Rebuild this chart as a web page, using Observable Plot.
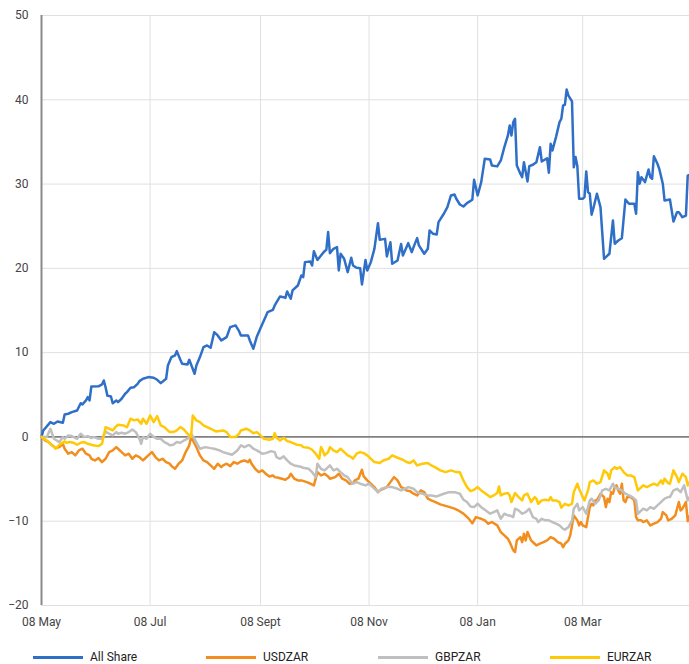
<!DOCTYPE html>
<html>
<head>
<meta charset="utf-8">
<script src="https://cdn.jsdelivr.net/npm/d3@7"></script>
<script src="https://cdn.jsdelivr.net/npm/@observablehq/plot@0.6"></script>
<style>
  html, body { margin: 0; padding: 0; background: #fff; }
  body { font-family: Roboto, "Noto Sans", sans-serif; width: 689px; }
  #chart svg { display: block; }
  .legend { position: relative; height: 16px; margin-top: 9px; font-size: 12px; color: #222; }
  .legend .item { position: absolute; top: 0; height: 16px; display: flex; align-items: center; white-space: nowrap; }
  .legend .sw { width: 50px; height: 3px; margin-right: 7px; }
</style>
</head>
<body>
<div id="chart"></div>
<div class="legend" id="legend"></div>
<script>
// ---- data (day offsets from start date, cumulative % change) ----
const startDate = "2022-05-08";
const endDate = "2023-05-07";
const seriesNames = ["All Share", "USDZAR", "GBPZAR", "EURZAR"];
const seriesColors = ["#2f6fc8", "#f28e1e", "#bfbfbf", "#ffc907"];
const tickDates = ["2022-05-08", "2022-07-08", "2022-09-08", "2022-11-08", "2023-01-08", "2023-03-08"];
const tickLabels = ["08 May", "08 Jul", "08 Sept", "08 Nov", "08 Jan", "08 Mar"];
const yTicks = [-20, -10, 0, 10, 20, 30, 40, 50];

const allShare = [[0,0],[1,0.77],[5,1.76],[7,1.56],[9,1.84],[12,1.68],[13,2.67],[15,2.75],[17,2.94],[20,3.14],[22,4.0],[23,3.86],[25,4.33],[26,4.72],[27,4.33],[28,5.99],[32,6.0],[34,6.23],[35,6.7],[36,5.9],[37,4.9],[39,4.8],[40,4.0],[42,4.33],[43,4.13],[45,4.53],[47,5.12],[48,5.32],[50,5.83],[52,5.9],[54,6.3],[55,6.62],[57,6.9],[60,7.1],[63,7.02],[65,6.78],[67,6.38],[70,6.9],[71,8.48],[73,9.47],[75,9.67],[76,10.18],[78,9.15],[79,8.68],[82,8.6],[83,9.15],[86,7.5],[87,8.48],[89,9.47],[91,10.65],[93,10.85],[95,10.58],[97,12.43],[99,12.04],[101,11.45],[104,11.84],[106,13.03],[109,13.23],[111,12.55],[112,12.04],[116,12.04],[117,11.45],[119,10.46],[121,11.92],[123,12.9],[127,14.8],[130,15.08],[131,15.6],[134,16.67],[136,16.58],[137,16.5],[138,17.26],[140,16.39],[141,17.38],[144,17.97],[146,19.16],[147,18.96],[148,20.74],[151,20.82],[152,20.34],[153,22.04],[155,21.0],[157,21.53],[159,22.04],[160,22.2],[161,24.3],[162,21.8],[164,22.32],[166,22.52],[167,19.75],[168,21.73],[170,21.14],[172,19.55],[174,21.26],[175,20.34],[177,20.07],[179,20.02],[180,18.09],[182,21.0],[183,19.75],[185,20.74],[187,22.32],[189,25.36],[190,23.39],[193,23.5],[194,21.41],[196,23.1],[197,20.54],[200,20.94],[202,22.9],[203,21.53],[206,22.99],[208,21.92],[209,22.52],[211,23.59],[212,22.72],[215,21.73],[217,22.32],[218,24.5],[220,24.1],[222,24.02],[223,25.48],[226,26.48],[228,27.27],[230,28.65],[232,28.77],[233,28.26],[235,27.58],[237,27.34],[239,27.74],[242,28.14],[243,30.51],[245,28.65],[247,30.23],[249,33.0],[252,32.92],[253,32.2],[256,32.1],[258,32.8],[260,34.38],[262,35.77],[263,36.95],[264,35.77],[265,37.35],[266,37.75],[267,32.2],[269,31.22],[270,30.82],[271,32.6],[273,30.31],[274,32.12],[276,32.29],[278,32.6],[280,34.38],[281,32.68],[284,33.07],[285,31.34],[286,34.78],[287,33.99],[289,35.57],[291,37.35],[292,37.75],[293,39.32],[294,39.4],[295,41.22],[296,40.5],[298,39.8],[299,32.0],[300,33.2],[301,32.12],[302,28.26],[304,28.26],[305,28.45],[306,31.5],[307,29.04],[308,28.85],[309,26.36],[310,27.14],[312,28.85],[314,27.26],[316,21.14],[317,21.33],[319,21.73],[321,25.68],[322,22.92],[324,23.31],[326,23.58],[328,28.17],[330,27.66],[333,27.66],[334,26.48],[335,31.41],[336,30.04],[337,30.82],[339,30.23],[341,31.73],[342,30.82],[343,30.62],[344,33.31],[346,32.41],[347,31.81],[349,30.04],[350,28.05],[353,28.17],[355,25.56],[357,26.67],[358,26.67],[360,26.07],[362,26.27],[363,31.0],[364,31.1]];

const usdZar = [[0,0],[2,-0.42],[4,-0.61],[6,-1.0],[8,-1.33],[10,-1.21],[12,-0.81],[13,-1.4],[15,-1.99],[17,-1.8],[19,-2.19],[21,-1.6],[23,-1.4],[25,-1.99],[27,-2.19],[28,-2.59],[30,-2.79],[32,-2.51],[34,-2.99],[36,-2.59],[38,-1.8],[40,-1.6],[42,-1.21],[43,-1.4],[45,-1.8],[47,-2.19],[49,-1.99],[51,-2.59],[53,-2.19],[55,-2.39],[57,-2.79],[58,-2.59],[60,-2.19],[62,-1.8],[64,-2.39],[66,-2.79],[68,-2.59],[70,-2.99],[72,-3.18],[73,-3.46],[75,-3.78],[77,-3.18],[79,-2.79],[81,-1.8],[83,-1.0],[84,0],[86,-0.81],[87,-1.21],[89,-2.19],[91,-2.79],[93,-2.99],[95,-3.38],[97,-3.78],[99,-3.18],[101,-3.58],[102,-3.38],[104,-3.18],[106,-3.46],[108,-2.99],[110,-3.18],[112,-2.91],[114,-2.79],[116,-2.99],[117,-2.7],[118,-3.18],[120,-3.78],[122,-4.17],[124,-3.97],[126,-4.37],[128,-4.69],[130,-4.57],[131,-4.77],[133,-4.84],[135,-4.96],[137,-5.08],[139,-4.77],[140,-4.37],[142,-4.96],[144,-5.16],[146,-5.16],[149,-5.36],[151,-5.55],[153,-5.75],[155,-4.17],[157,-4.57],[159,-4.37],[161,-4.69],[162,-4.96],[165,-4.77],[167,-4.37],[169,-4.96],[171,-5.16],[173,-5.55],[175,-5.48],[176,-5.16],[178,-4.96],[180,-3.89],[181,-4.69],[183,-5.16],[185,-5.55],[187,-5.95],[189,-6.55],[190,-6.35],[192,-6.15],[194,-5.95],[196,-5.36],[198,-4.77],[200,-5.16],[202,-5.95],[204,-6.15],[205,-6.35],[207,-6.43],[209,-6.74],[211,-6.94],[213,-6.35],[215,-6.55],[217,-7.33],[219,-7.53],[221,-7.7],[224,-8.0],[228,-8.24],[232,-8.5],[234,-8.7],[237,-9.1],[240,-9.7],[242,-10.25],[244,-9.51],[247,-9.71],[249,-9.9],[251,-10.3],[253,-10.1],[256,-10.5],[258,-11.29],[260,-11.68],[262,-12.08],[263,-12.48],[265,-13.46],[266,-13.66],[267,-12.28],[269,-11.88],[270,-12.48],[271,-11.48],[272,-12.28],[273,-11.29],[275,-12.28],[277,-12.67],[278,-12.87],[280,-12.67],[282,-12.48],[284,-12.28],[286,-11.88],[288,-12.08],[290,-12.48],[292,-12.67],[293,-13.07],[294,-12.67],[296,-12.28],[297,-11.68],[298,-10.5],[299,-9.31],[301,-9.9],[302,-10.5],[303,-10.1],[304,-10.5],[306,-10.7],[307,-9.51],[308,-8.33],[309,-7.93],[310,-8.13],[311,-7.53],[312,-7.53],[314,-6.74],[316,-7.14],[317,-8.33],[318,-7.33],[319,-7.73],[320,-6.55],[321,-6.74],[322,-5.95],[323,-5.75],[324,-6.35],[325,-6.74],[326,-5.55],[327,-7.53],[328,-7.73],[329,-7.14],[331,-7.14],[333,-7.53],[334,-9.51],[335,-9.9],[337,-9.9],[338,-10.1],[340,-9.9],[342,-10.5],[344,-10.3],[346,-10.1],[348,-9.71],[349,-8.92],[351,-9.31],[352,-9.9],[354,-9.71],[356,-9.31],[358,-7.73],[359,-8.72],[360,-8.52],[362,-7.73],[363,-10.0],[364,-9.4]];

const gbpZar = [[0,0],[3,-0.02],[5,0.97],[7,-0.22],[10,-0.61],[12,-0.02],[13,-0.22],[15,0.18],[17,0.1],[20,-0.22],[22,0.38],[24,-0.02],[26,0.1],[28,-0.14],[29,0],[32,-0.22],[34,-0.22],[36,0.65],[38,0.38],[40,0.18],[42,0.57],[43,0.38],[45,0.5],[47,0.38],[49,0.57],[51,0.89],[53,0.57],[55,-0.22],[56,-0.81],[57,0],[59,-0.22],[61,0.38],[63,0],[65,-0.22],[67,-0.22],[69,-0.61],[71,-0.81],[72,-1.0],[74,-0.93],[76,-0.61],[78,-0.69],[80,-0.42],[82,-0.22],[84,0.38],[86,-0.22],[87,-0.69],[89,-1.4],[92,-1.21],[95,-1.33],[97,-1.4],[100,-1.6],[102,-1.8],[105,-1.99],[107,-2.11],[110,-1.6],[112,-1.0],[114,-1.21],[116,-1.0],[117,-1.0],[119,-1.4],[121,-1.6],[124,-2.0],[126,-1.92],[129,-1.68],[131,-1.8],[132,-2.39],[134,-2.59],[136,-2.31],[138,-2.79],[140,-3.18],[142,-3.38],[145,-3.5],[147,-3.66],[150,-3.78],[152,-4.17],[154,-4.77],[155,-3.18],[157,-3.78],[159,-3.97],[161,-3.58],[162,-3.38],[164,-3.97],[166,-3.78],[168,-4.17],[170,-4.57],[172,-4.77],[174,-5.36],[175,-5.55],[177,-5.36],[179,-5.55],[182,-5.75],[184,-5.55],[186,-5.95],[188,-6.35],[189,-6.55],[191,-6.15],[194,-5.95],[197,-5.95],[200,-6.15],[202,-6.35],[204,-6.15],[206,-5.95],[209,-6.15],[211,-6.55],[214,-6.74],[217,-6.94],[219,-6.94],[222,-7.06],[226,-6.74],[229,-6.55],[232,-6.55],[235,-6.74],[237,-7.45],[239,-7.73],[241,-8.25],[243,-8.33],[245,-7.93],[247,-8.33],[249,-8.64],[252,-9.11],[254,-8.92],[256,-8.72],[258,-9.71],[260,-9.11],[262,-9.31],[263,-9.31],[265,-9.51],[266,-8.52],[268,-8.72],[270,-9.11],[272,-8.92],[274,-8.52],[276,-9.51],[278,-9.71],[279,-10.1],[281,-9.71],[283,-9.9],[285,-9.9],[287,-10.1],[289,-10.3],[291,-10.5],[293,-10.9],[294,-11.0],[296,-10.7],[298,-9.9],[299,-8.52],[301,-7.93],[302,-8.72],[304,-8.33],[306,-9.11],[308,-7.53],[309,-7.33],[311,-7.93],[313,-7.53],[315,-6.35],[317,-6.15],[319,-6.35],[321,-5.55],[322,-5.95],[324,-6.15],[326,-6.35],[328,-6.74],[330,-6.94],[332,-7.14],[334,-7.53],[335,-9.11],[337,-8.72],[338,-8.52],[340,-8.72],[342,-8.33],[344,-8.52],[346,-8.13],[348,-7.73],[350,-7.33],[352,-7.14],[353,-7.14],[355,-6.35],[357,-6.15],[359,-6.55],[361,-5.75],[363,-7.53],[364,-7.14]];

const eurZar = [[0,0],[3,-0.42],[5,-0.81],[7,-1.21],[8,-1.4],[10,-0.93],[13,-0.53],[14,-0.69],[16,-0.61],[18,-0.69],[20,-0.93],[22,-0.69],[24,-0.61],[26,-0.81],[28,-0.93],[29,-1.0],[32,-1.09],[34,-0.81],[36,1.16],[38,0.97],[40,0.77],[42,1.28],[43,1.44],[46,1.36],[48,1.16],[50,2.16],[52,1.96],[54,2.08],[56,1.56],[57,2.16],[59,1.56],[61,2.55],[63,1.76],[65,2.47],[67,1.36],[69,1.16],[72,0.57],[74,0.57],[76,0.77],[78,1.16],[80,0.89],[82,0.38],[84,0],[85,2.55],[87,1.96],[89,1.76],[91,1.36],[93,1.16],[95,0.97],[98,0.65],[102,0.77],[104,0.57],[106,0],[109,0],[111,0.38],[112,0.77],[115,0.97],[117,0.77],[119,0.45],[121,0.57],[123,0.18],[125,-0.22],[128,-0.34],[130,-0.22],[131,0.45],[132,-0.1],[134,-0.42],[136,-0.1],[138,-0.5],[140,-0.61],[143,-0.89],[146,-1.0],[147,-1.21],[150,-1.28],[152,-1.52],[154,-1.99],[156,-2.59],[157,-1.21],[158,-1.6],[159,-2.19],[161,-1.8],[162,-1.21],[164,-1.6],[166,-1.8],[168,-1.4],[169,-1.6],[172,-2.19],[174,-2.39],[175,-2.59],[177,-1.99],[179,-1.8],[181,-1.92],[183,-2.19],[185,-2.59],[187,-2.98],[190,-3.1],[192,-2.79],[195,-2.59],[197,-2.19],[200,-2.47],[203,-2.71],[205,-2.98],[207,-3.1],[209,-2.79],[211,-3.38],[214,-3.18],[217,-3.1],[219,-3.38],[221,-3.58],[224,-3.97],[227,-4.17],[230,-3.97],[233,-4.17],[235,-4.2],[237,-5.16],[239,-5.95],[241,-6.43],[243,-6.27],[245,-5.95],[247,-6.35],[249,-6.66],[252,-7.14],[254,-6.94],[256,-6.66],[257,-5.87],[258,-6.94],[260,-6.74],[262,-6.66],[263,-6.94],[264,-7.73],[266,-6.66],[268,-7.14],[270,-7.53],[271,-6.94],[273,-6.74],[275,-7.73],[277,-7.14],[278,-7.33],[279,-7.93],[281,-7.53],[283,-7.45],[285,-7.53],[286,-7.14],[287,-7.53],[289,-7.53],[291,-7.73],[292,-8.4],[294,-7.93],[296,-8.13],[298,-7.93],[299,-6.55],[301,-5.55],[302,-6.15],[304,-7.14],[305,-7.53],[307,-6.35],[308,-5.36],[310,-5.16],[312,-5.55],[314,-5.36],[316,-3.97],[318,-4.37],[319,-4.96],[320,-3.97],[321,-3.78],[322,-3.58],[323,-3.78],[325,-3.58],[327,-4.17],[329,-4.57],[331,-4.57],[333,-4.77],[335,-6.35],[337,-5.95],[338,-5.75],[340,-5.95],[342,-5.75],[344,-5.55],[346,-5.75],[348,-5.16],[349,-5.55],[350,-4.96],[352,-5.48],[353,-5.55],[355,-3.97],[357,-4.77],[358,-5.36],[360,-4.37],[362,-4.77],[363,-5.75],[364,-5.36]];

const seriesData = [allShare, usdZar, gbpZar, eurZar];

// ---- build rows ----
const t0 = Date.parse(startDate + "T00:00:00Z");
const DAY = 864e5;
const rows = seriesNames.map((name, k) =>
  seriesData[k].map(([d, v]) => ({ series: name, date: new Date(t0 + d * DAY), value: v }))
);
const ticks = tickDates.map(s => new Date(s + "T00:00:00Z"));
const labelByTime = new Map(ticks.map((t, i) => [+t, tickLabels[i]]));

const chart = Plot.plot({
  width: 689,
  height: 640,
  marginTop: 15,
  marginRight: 0,
  marginBottom: 35,
  marginLeft: 41,
  style: { fontFamily: "Roboto, 'Noto Sans', sans-serif", fontSize: "12px", color: "#444", background: "#fff" },
  x: { type: "utc", domain: [new Date(startDate + "T00:00:00Z"), new Date(endDate + "T00:00:00Z")], label: null },
  y: { domain: [-20, 50], label: null },
  marks: [
    Plot.gridY(yTicks, { stroke: "#e0e0e0", strokeOpacity: 1, strokeWidth: 1 }),
    Plot.gridX(ticks, { stroke: "#e0e0e0", strokeOpacity: 1, strokeWidth: 1 }),
    Plot.axisY(yTicks, { tickSize: 0, tickPadding: 13, fill: "#444", fontSize: 12, label: null }),
    Plot.axisX(ticks, { tickSize: 0, tickPadding: 12, fill: "#444", fontSize: 12, label: null, tickFormat: d => labelByTime.get(+d) }),
    Plot.ruleY([0], { stroke: "#333", strokeWidth: 1 }),
    Plot.ruleX([new Date(startDate + "T00:00:00Z")], { stroke: "#8a8a8a", strokeWidth: 2 }),
    ...rows.map((r, k) => Plot.line(r, { x: "date", y: "value", stroke: seriesColors[k], strokeWidth: 2.5, strokeLinejoin: "round" }))
  ]
});
document.getElementById("chart").appendChild(chart);

// ---- legend ----
const legend = document.getElementById("legend");
const legendLeft = [33, 206, 378, 550];
seriesNames.forEach((name, k) => {
  const item = document.createElement("div");
  item.className = "item";
  item.style.left = legendLeft[k] + "px";
  const sw = document.createElement("span");
  sw.className = "sw";
  sw.style.background = seriesColors[k];
  const tx = document.createElement("span");
  tx.textContent = name;
  item.appendChild(sw);
  item.appendChild(tx);
  legend.appendChild(item);
});
</script>
</body>
</html>
